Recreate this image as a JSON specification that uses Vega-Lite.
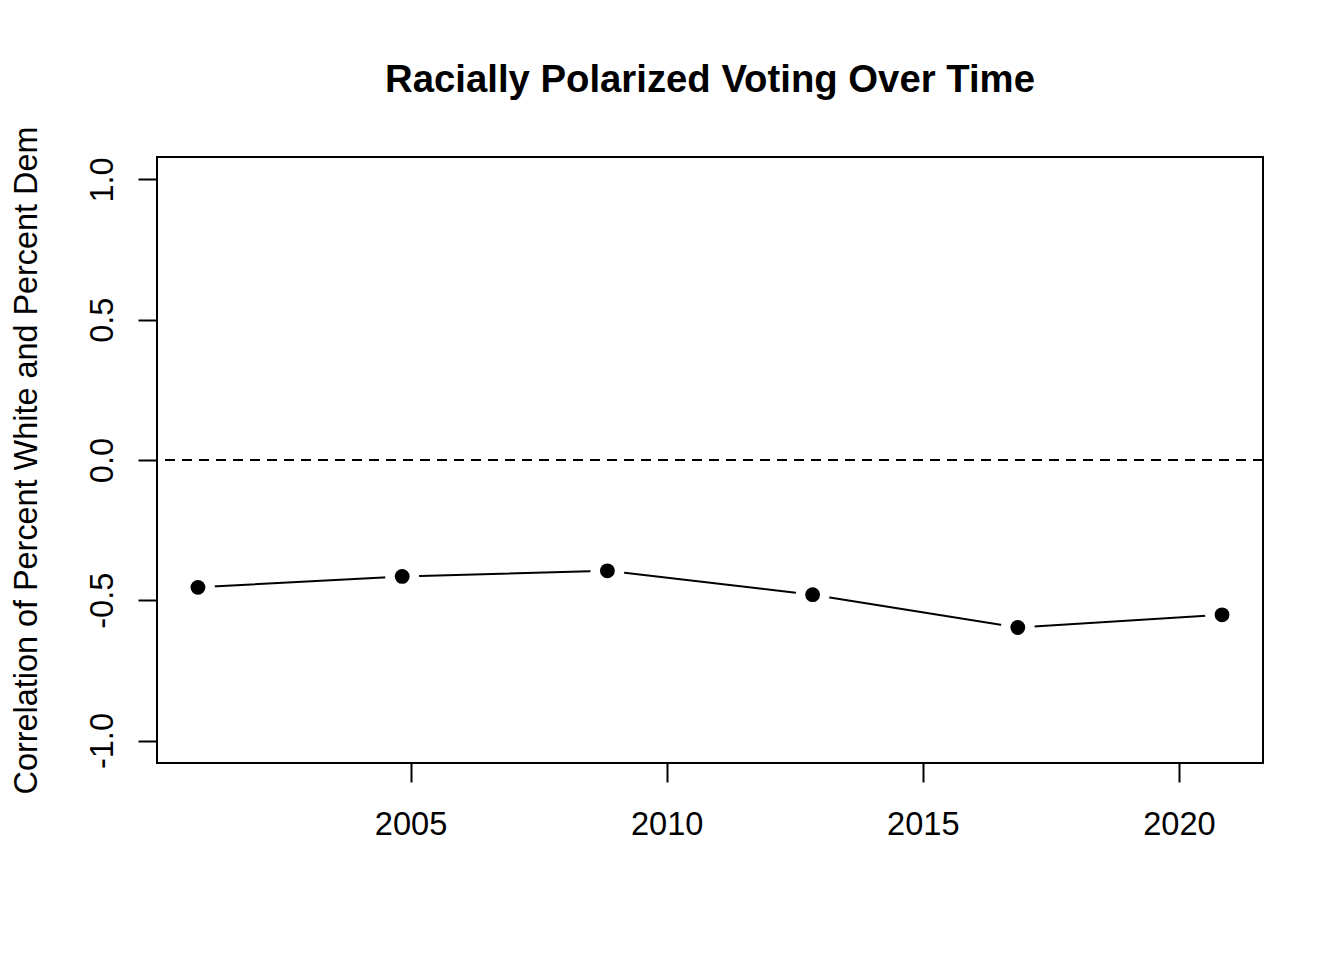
{
  "$schema": "https://vega.github.io/schema/vega-lite/v6.json",
  "width": 1106,
  "height": 606,
  "autosize": {"type": "none"},
  "padding": {"left": 157, "top": 157, "right": 81, "bottom": 197},
  "background": "white",
  "config": {
    "view": {"stroke": "black", "strokeWidth": 2},
    "font": "Liberation Sans",
    "locale": {"number": {"decimal": ".", "thousands": ",", "grouping": [3], "currency": ["$", ""], "minus": "-"}}
  },
  "title": {
    "text": "Racially Polarized Voting Over Time",
    "fontSize": 38.3,
    "fontWeight": "bold",
    "font": "Liberation Sans",
    "color": "black",
    "anchor": "middle",
    "frame": "group",
    "baseline": "alphabetic",
    "offset": -4
  },
  "data": {
    "values": [
      {"date": "2000-11-07T00:00:00", "corr": -0.454},
      {"date": "2004-11-02T00:00:00", "corr": -0.415},
      {"date": "2008-11-04T00:00:00", "corr": -0.395},
      {"date": "2012-11-06T00:00:00", "corr": -0.480},
      {"date": "2016-11-08T00:00:00", "corr": -0.597},
      {"date": "2020-11-03T00:00:00", "corr": -0.552}
    ]
  },
  "layer": [
    {
      "mark": {"type": "rule", "strokeDash": [10, 7], "strokeWidth": 2, "color": "black"},
      "encoding": {
        "y": {"datum": 0, "type": "quantitative", "scale": {"domain": [-1.08, 1.08], "nice": false, "zero": false}}
      }
    },
    {
      "mark": {"type": "line", "color": "black", "strokeWidth": 2},
      "encoding": {
        "x": {
          "field": "date", "type": "temporal",
          "scale": {"domain": [{"year": 2000, "month": 1, "date": 20}, {"year": 2021, "month": 8, "date": 22}], "nice": false},
          "axis": {
            "title": null, "domain": false, "grid": false,
            "values": [{"year": 2005, "month": 1, "date": 1}, {"year": 2010, "month": 1, "date": 1}, {"year": 2015, "month": 1, "date": 1}, {"year": 2020, "month": 1, "date": 1}],
            "format": "%Y",
            "tickSize": 19, "tickWidth": 2, "tickColor": "black",
            "labelFontSize": 32.6, "labelColor": "black", "labelFont": "Liberation Sans",
            "labelBaseline": "alphabetic", "labelPadding": 52, "labelFlush": false, "labelOverlap": false
          }
        },
        "y": {
          "field": "corr", "type": "quantitative",
          "scale": {"domain": [-1.08, 1.08], "nice": false, "zero": false},
          "axis": {
            "title": "Correlation of Percent White and Percent Dem",
            "titleFontSize": 32.4, "titleFontWeight": "normal", "titleColor": "black", "titleFont": "Liberation Sans",
            "titleAngle": -90, "titleX": -121, "titleY": 303, "titleAlign": "center", "titleBaseline": "alphabetic",
            "domain": false, "grid": false,
            "values": [-1, -0.5, 0, 0.5, 1], "format": ".1f",
            "tickSize": 19, "tickWidth": 2, "tickColor": "black",
            "labelFontSize": 32.6, "labelColor": "black", "labelFont": "Liberation Sans",
            "labelAngle": -90, "labelAlign": "center", "labelBaseline": "alphabetic", "labelPadding": 26,
            "labelFlush": false, "labelOverlap": false
          }
        }
      }
    },
    {
      "mark": {"type": "point", "filled": true, "color": "white", "size": 1150, "opacity": 1},
      "encoding": {
        "x": {"field": "date", "type": "temporal"},
        "y": {"field": "corr", "type": "quantitative"}
      }
    },
    {
      "mark": {"type": "point", "filled": true, "color": "black", "size": 220, "opacity": 1},
      "encoding": {
        "x": {"field": "date", "type": "temporal"},
        "y": {"field": "corr", "type": "quantitative"}
      }
    }
  ]
}
